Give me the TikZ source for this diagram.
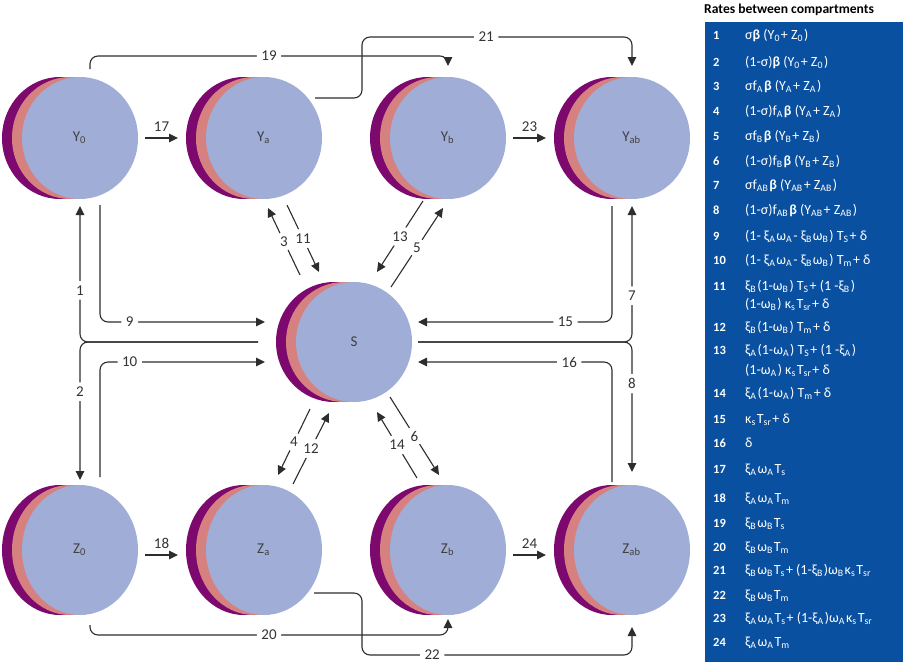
\documentclass[tikz,border=0pt]{standalone}
\usepackage{fontspec}
\setmainfont{Carlito}
\usetikzlibrary{arrows.meta,calc,shapes.geometric}

\definecolor{cpurple}{RGB}{125,8,110}
\definecolor{csalmon}{RGB}{214,128,128}
\definecolor{cblue}{RGB}{160,173,214}
\definecolor{tblue}{RGB}{10,80,160}
\definecolor{cline}{RGB}{45,45,45}
\newcommand{\sub}[1]{\textsubscript{#1}\kern1pt}
\newcommand{\bb}{\textbf{β}}

\tikzset{
  comp/.style={ellipse,fill=cblue,inner sep=0pt,outer sep=0pt,
    minimum width=116pt,minimum height=#1,
    preaction={fill=cpurple,transform canvas={xshift=-20pt}},
    preaction={fill=csalmon,transform canvas={xshift=-10pt}},
    text=black!75,font=\fontsize{15}{17}\selectfont},
  comp/.default=122pt,
  flow/.style={draw=cline,line width=1.1pt,rounded corners=8pt,
    -{Triangle[length=9pt,width=8.5pt]}},
  num/.style={fill=white,inner sep=4.5pt,text=black!80,font=\fontsize{15}{17}\selectfont},
  numtop/.style={num,fill=none,inner sep=1pt,above=5pt},
  rnum/.style={anchor=base west,text=white,inner sep=0pt,font=\bfseries\fontsize{12.5}{14}\selectfont},
  rate/.style={anchor=base west,text=white,inner sep=0pt,font=\fontsize{14}{16}\selectfont},
}

\begin{document}
\begin{tikzpicture}[x=1pt,y=-1pt]
\useasboundingbox (0,0) rectangle (907,664);

% compartments
\node[comp] (Y0) at (80,138) {Y\sub{0}};
\node[comp] (Ya) at (264,138) {Y\sub{a}};
\node[comp] (Yb) at (448,138) {Y\sub{b}};
\node[comp] (Yab) at (632,138) {Y\sub{ab}};
\node[comp=120pt] (S) at (354,342) {S};
\node[comp=130pt] (Z0) at (80,550) {Z\sub{0}};
\node[comp=130pt] (Za) at (264,550) {Z\sub{a}};
\node[comp=130pt] (Zb) at (448,550) {Z\sub{b}};
\node[comp=130pt] (Zab) at (632,550) {Z\sub{ab}};

% along the rows
\draw[flow] ($(Y0.east)+(7,0)$) -- node[numtop]{17} ($(Ya.west)+(-28,0)$);
\draw[flow] ($(Yb.east)+(7,0)$) -- node[numtop]{23} ($(Yab.west)+(-28,0)$);
\draw[flow] ($(Z0.east)+(7,5)$) -- node[numtop]{18} ($(Za.west)+(-28,5)$);
\draw[flow] ($(Zb.east)+(7,5)$) -- node[numtop]{24} ($(Zab.west)+(-28,5)$);

% long jumps
\draw[flow] ($(Y0.north)+(10,-8)$) |- node[num,pos=0.75]{19} ($(Yb.north)+(0,-21)$) -- ($(Yb.north)+(0,-11)$);
\draw[flow] ($(Ya.center)+(51,-40)$) -| ($(Ya.center)+(98,-101)$) -| node[num,pos=0.23]{21} ($(Yab.north)+(0,-11)$);
\draw[flow] ($(Z0.south)+(10,10)$) |- node[num,pos=0.75]{20} ($(Zb.south)+(0,20)$) -- ($(Zb.south)+(0,4)$);
\draw[flow] ($(Za.center)+(50,43)$) -| ($(Za.center)+(98,105)$) -| node[num,pos=0.13]{22} ($(Zab.south)+(0,12)$);

% left side
\draw[flow] ($(S.west)+(-38,0)$) -| node[num,pos=0.69]{1} ($(Y0.south)+(0,7)$);
\draw[flow] ($(S.west)+(-38,0)$) -| node[num,pos=0.68]{2} ($(Z0.north)+(0,-5)$);
\draw[flow] ($(Y0.south)+(20,6)$) |- node[num,pos=0.59]{9} ($(S.west)+(-31,-20)$);
\draw[flow] ($(Z0.north)+(20,-8)$) |- node[num,pos=0.59]{10} ($(S.west)+(-31,20)$);

% right side
\draw[flow] ($(Yab.south)+(-20,7)$) |- node[num,pos=0.62]{15} ($(S.east)+(6,-20)$);
\draw[flow] ($(S.east)+(6,0)$) -| node[num,pos=0.67]{7} ($(Yab.south)+(0,7)$);
\draw[flow] ($(S.east)+(6,0)$) -| node[num,pos=0.66]{8} ($(Zab.north)+(0,-13)$);
\draw[flow] ($(Zab.north)+(-20,-3)$) |- node[num,pos=0.61]{16} ($(S.east)+(6,20)$);

% diagonals
\draw[flow] ($(S.center)+(-54,-67)$) -- node[num]{3} ($(Ya.center)+(4,70)$);
\draw[flow] ($(Ya.center)+(23,67)$) -- node[num]{11} ($(S.center)+(-35,-70)$);
\draw[flow] ($(Yb.center)+(-25,63)$) -- node[num]{13} ($(S.center)+(23,-70)$);
\draw[flow] ($(S.center)+(37,-55)$) -- node[num]{5} ($(Yb.center)+(-5,70)$);
\draw[flow] ($(S.center)+(-44,67)$) -- node[num]{4} ($(Za.center)+(14,-75)$);
\draw[flow] ($(Za.center)+(29,-66)$) -- node[num]{12} ($(S.center)+(-25,71)$);
\draw[flow] ($(Zb.center)+(-31,-72)$) -- node[num]{14} ($(S.center)+(23,70)$);
\draw[flow] ($(S.center)+(36,55)$) -- node[num]{6} ($(Zb.center)+(-9,-75)$);

% rates table
\node[anchor=west,inner sep=0pt,font=\bfseries\fontsize{13.6}{15}\selectfont] (title) at (704,10) {Rates between compartments};
\node[fill=tblue,anchor=north west,inner sep=0pt,minimum width=198pt,minimum height=640pt] (panel) at (705,22) {};
\foreach \n/\y/\f in {
  1/35/{σ\bb{} (Y\sub{0}+ Z\sub{0})},
  2/62/{(1-σ)\bb{} (Y\sub{0} + Z\sub{0})},
  3/86/{σf\sub{A}\bb{} (Y\sub{A} + Z\sub{A})},
  4/111/{(1-σ)f\sub{A}\bb{} (Y\sub{A}+ Z\sub{A})},
  5/136/{σf\sub{B}\bb{} (Y\sub{B} + Z\sub{B})},
  6/161/{(1-σ)f\sub{B}\bb{} (Y\sub{B} + Z\sub{B})},
  7/185/{σf\sub{AB} \bb{} (Y\sub{AB} + Z\sub{AB})},
  8/210/{(1-σ)f\sub{AB} \bb{} (Y\sub{AB} + Z\sub{AB})},
  9/236/{(1- ξ\sub{A}ω\sub{A} - ξ\sub{B}ω\sub{B}) T\sub{S} + δ},
  10/260/{(1- ξ\sub{A}ω\sub{A} - ξ\sub{B}ω\sub{B}) T\sub{m} + δ},
  11/286/{ξ\sub{B}(1-ω\sub{B}) T\sub{S} + (1 -ξ\sub{B})},
  12/327/{ξ\sub{B}(1-ω\sub{B}) T\sub{m} + δ},
  13/350/{ξ\sub{A}(1-ω\sub{A}) T\sub{S} + (1 -ξ\sub{A})},
  14/393/{ξ\sub{A}(1-ω\sub{A}) T\sub{m} + δ},
  15/419/{κ\sub{s}T\sub{sr} + δ},
  16/443/{δ},
  17/469/{ξ\sub{A}ω\sub{A} T\sub{s}},
  18/498/{ξ\sub{A}ω\sub{A} T\sub{m}},
  19/523/{ξ\sub{B}ω\sub{B} T\sub{s}},
  20/547/{ξ\sub{B}ω\sub{B} T\sub{m}},
  21/570/{ξ\sub{B}ω\sub{B} T\sub{s} + (1-ξ\sub{B})ω\sub{B}κ\sub{s}T\sub{sr}},
  22/595/{ξ\sub{B}ω\sub{B} T\sub{m}},
  23/618/{ξ\sub{A}ω\sub{A} T\sub{s} + (1-ξ\sub{A})ω\sub{A}κ\sub{s}T\sub{sr}},
  24/642/{ξ\sub{A}ω\sub{A} T\sub{m}}}{
  \node[rnum] (n\n) at (713,\y+4) {\n};
  \node[rate] (r\n) at (745,\y+4) {\f};
}
\node[rate] (r11b) at (745,308) {(1-ω\sub{B}) κ\sub{s}T\sub{sr} + δ};
\node[rate] (r13b) at (745,374) {(1-ω\sub{A}) κ\sub{s}T\sub{sr} + δ};
\end{tikzpicture}
\end{document}
